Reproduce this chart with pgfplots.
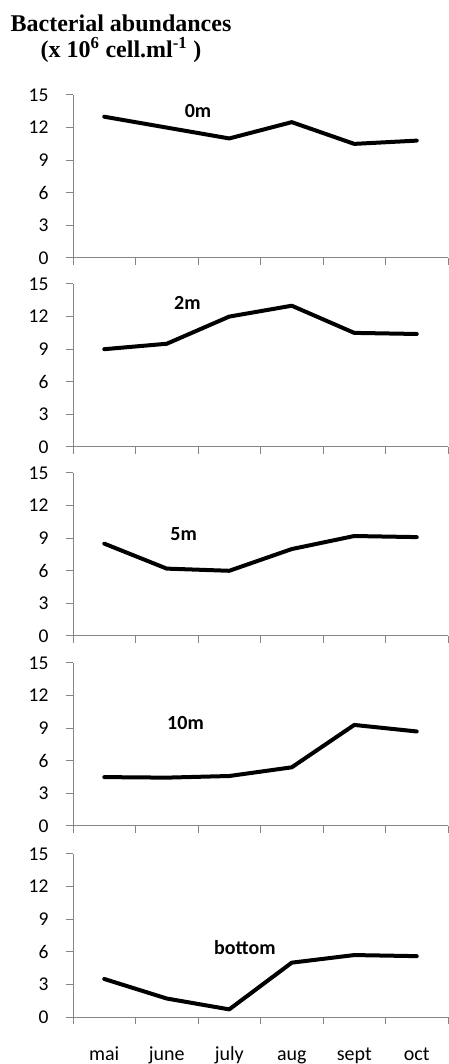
\documentclass[border=0pt]{standalone}
\usepackage{fontspec}
\setmainfont{Carlito}
\newfontfamily\timesfont{Liberation Serif}
\usepackage{pgfplots}
\pgfplotsset{compat=1.18}
\definecolor{axisgray}{HTML}{868686}
\tikzset{
  dline/.style={black, line width=4pt, line join=round, line cap=round, mark=none},
  plabel/.style={font=\bfseries\fontsize{20}{24}\selectfont},
}
\pgfplotsset{
  panel/.style={
    scale only axis, width=375pt, height=163pt,
    xmin=-0.5, xmax=5.5, ymin=0, ymax=15,
    ytick={0,3,...,15},
    xtick={-0.5,0.5,...,5.5},
    xticklabels={},
    axis x line*=bottom, axis y line*=left,
    axis line style={-, draw=axisgray, line width=1pt},
    xtick style={draw=axisgray, line width=1pt},
    ytick style={draw=axisgray, line width=1pt},
    xtick align=outside, ytick align=outside,
    major tick length=7pt,
    ticklabel style={font=\fontsize{19.5}{22}\selectfont},
    yticklabel style={xshift=-14pt},
    /pgf/number format/assume math mode=true,
    clip=false,
    anchor=south west,
  },
}
\begin{document}
\begin{tikzpicture}
\useasboundingbox (0,0) rectangle (448pt,1064pt);
\node[font=\timesfont\bfseries\fontsize{24}{26}\selectfont, align=center] at (121pt,1025pt)
  {Bacterial abundances\\(x 10\textsuperscript{6} cell.ml\textsuperscript{-1} )};

\begin{axis}[panel, at={(73pt,806pt)}]
\addplot[dline] coordinates {(0,13) (1,12) (2,11) (3,12.5) (4,10.5) (5,10.8)};
\node[plabel] at (axis cs:1.5,13.5) {0m};
\end{axis}

\begin{axis}[panel, at={(73pt,617pt)}]
\addplot[dline] coordinates {(0,9) (1,9.5) (2,12) (3,13) (4,10.5) (5,10.4)};
\node[plabel] at (axis cs:1.33,13.25) {2m};
\end{axis}

\begin{axis}[panel, at={(73pt,428pt)}]
\addplot[dline] coordinates {(0,8.5) (1,6.2) (2,6.0) (3,8.0) (4,9.2) (5,9.1)};
\node[plabel] at (axis cs:1.27,9.4) {5m};
\end{axis}

\begin{axis}[panel, at={(73pt,238pt)}]
\addplot[dline] coordinates {(0,4.5) (1,4.45) (2,4.6) (3,5.4) (4,9.3) (5,8.7)};
\node[plabel] at (axis cs:1.3,9.5) {10m};
\end{axis}

\begin{axis}[panel, at={(73pt,47pt)},
  xticklabels={mai,june,july,aug,sept,oct},
  x tick label as interval,
  xticklabel style={font=\fontsize{20}{24}\selectfont, text height=14pt, text depth=4pt, anchor=north, yshift=-19pt}]
\addplot[dline] coordinates {(0,3.5) (1,1.7) (2,0.7) (3,5.0) (4,5.7) (5,5.6)};
\node[plabel] at (axis cs:2.25,6.35) {bottom};
\end{axis}
\end{tikzpicture}
\end{document}
